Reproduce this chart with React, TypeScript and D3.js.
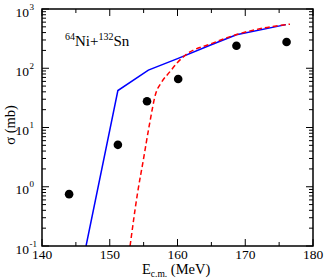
import React from "react";
import * as d3 from "d3";

const expE = [144.0, 151.2, 155.5, 160.1, 168.7, 176.1];
const expSigma = [0.75, 5.1, 27.7, 65.9, 240, 277];

const blueE = [146.5, 151.2, 155.7, 160.1, 164.8, 168.7, 176.0];
const blueSigma = [0.1, 42, 93, 147, 245, 368, 545];

const redE = [153.0, 154.1, 154.95, 155.8, 156.8, 157.6, 158.9, 160.0, 161.1, 165.2, 168.7, 172.0, 176.6];
const redSigma = [0.1, 0.78, 2.8, 10.3, 37.8, 57, 88, 125, 164, 265, 370, 460, 555];

const xTicks = [140, 150, 160, 170, 180];
const xMinor = [145, 155, 165, 175];
const yExps = [-1, 0, 1, 2, 3];

const W = 324;
const H = 279;
const M = { left: 42, right: 313, top: 9, bottom: 246 };
const FONT = "'Liberation Serif', 'Times New Roman', serif";

export default function App() {
  const x = d3.scaleLinear().domain([140, 180]).range([M.left, M.right]);
  const y = d3.scaleLog().domain([0.1, 1000]).range([M.bottom, M.top]);

  const line = d3
    .line<[number, number]>()
    .x((d) => x(d[0]))
    .y((d) => y(d[1]));
  const smooth = d3
    .line<[number, number]>()
    .x((d) => x(d[0]))
    .y((d) => y(d[1]))
    .curve(d3.curveMonotoneX);

  const blueData = blueE.map((e, i) => [e, blueSigma[i]] as [number, number]);
  const redData = redE.map((e, i) => [e, redSigma[i]] as [number, number]);

  const yMinor: number[] = [];
  for (let p = -1; p < 3; p++) {
    for (let k = 2; k <= 9; k++) yMinor.push(k * Math.pow(10, p));
  }

  const majorLen = 7;
  const minorLen = 4;

  return (
    <svg
      width={W}
      height={H}
      style={{ position: "absolute", left: 0, top: 0, background: "#fff" }}
      fontFamily={FONT}
    >
      <defs>
        <clipPath id="plotclip">
          <rect x={M.left} y={M.top} width={M.right - M.left} height={M.bottom - M.top} />
        </clipPath>
      </defs>
      <rect x={0} y={0} width={W} height={H} fill="#fff" />

      {/* ticks */}
      <g stroke="#000" strokeWidth={1}>
        {xTicks.map((t) => (
          <g key={"xt" + t}>
            <line x1={x(t)} x2={x(t)} y1={M.bottom} y2={M.bottom - majorLen} />
            <line x1={x(t)} x2={x(t)} y1={M.top} y2={M.top + majorLen} />
          </g>
        ))}
        {xMinor.map((t) => (
          <g key={"xm" + t}>
            <line x1={x(t)} x2={x(t)} y1={M.bottom} y2={M.bottom - minorLen} />
            <line x1={x(t)} x2={x(t)} y1={M.top} y2={M.top + minorLen} />
          </g>
        ))}
        {yExps.map((p) => (
          <g key={"yt" + p}>
            <line x1={M.left} x2={M.left + majorLen} y1={y(Math.pow(10, p))} y2={y(Math.pow(10, p))} />
            <line x1={M.right} x2={M.right - majorLen} y1={y(Math.pow(10, p))} y2={y(Math.pow(10, p))} />
          </g>
        ))}
        {yMinor.map((v, i) => (
          <g key={"ym" + i}>
            <line x1={M.left} x2={M.left + minorLen} y1={y(v)} y2={y(v)} />
            <line x1={M.right} x2={M.right - minorLen} y1={y(v)} y2={y(v)} />
          </g>
        ))}
      </g>

      {/* curves */}
      <g clipPath="url(#plotclip)">
        <path d={line(blueData) || ""} fill="none" stroke="#0000ff" strokeWidth={1.5} />
        <path
          d={smooth(redData) || ""}
          fill="none"
          stroke="#ff0000"
          strokeWidth={1.5}
          strokeDasharray="5,3"
        />
      </g>

      {/* data points */}
      {expE.map((e, i) => (
        <circle key={"p" + i} cx={x(e)} cy={y(expSigma[i])} r={4.3} fill="#000" />
      ))}

      {/* frame */}
      <rect
        x={M.left}
        y={M.top}
        width={M.right - M.left}
        height={M.bottom - M.top}
        fill="none"
        stroke="#000"
        strokeWidth={1.5}
      />

      {/* x tick labels */}
      {xTicks.map((t) => (
        <text key={"xl" + t} x={x(t)} y={259} fontSize={13.5} textAnchor="middle" fill="#000">
          {t}
        </text>
      ))}

      {/* y tick labels */}
      {yExps.map((p) => (
        <g key={"yl" + p}>
          <text x={29} y={y(Math.pow(10, p)) + 7.5} fontSize={13.5} textAnchor="end" fill="#000">
            10
          </text>
          <text x={29.5} y={y(Math.pow(10, p)) + 0.5} fontSize={9} textAnchor="start" fill="#000">
            {p}
          </text>
        </g>
      ))}

      {/* axis labels */}
      <text x={142} y={273.5} fontSize={14.5} fill="#000">
        E
        <tspan fontSize={9.5} dy={3.5}>c.m.</tspan>
        <tspan dy={-3.5}> (MeV)</tspan>
      </text>
      <text
        transform={`translate(15, 125) rotate(-90)`}
        fontSize={14.5}
        textAnchor="middle"
        fill="#000"
      >
        σ (mb)
      </text>

      {/* annotation */}
      <text x={65} y={46} fontSize={15} fill="#000">
        <tspan fontSize={10} dy={-6}>64</tspan>
        <tspan dy={6}>Ni+</tspan>
        <tspan fontSize={10} dy={-6}>132</tspan>
        <tspan dy={6}>Sn</tspan>
      </text>
    </svg>
  );
}
